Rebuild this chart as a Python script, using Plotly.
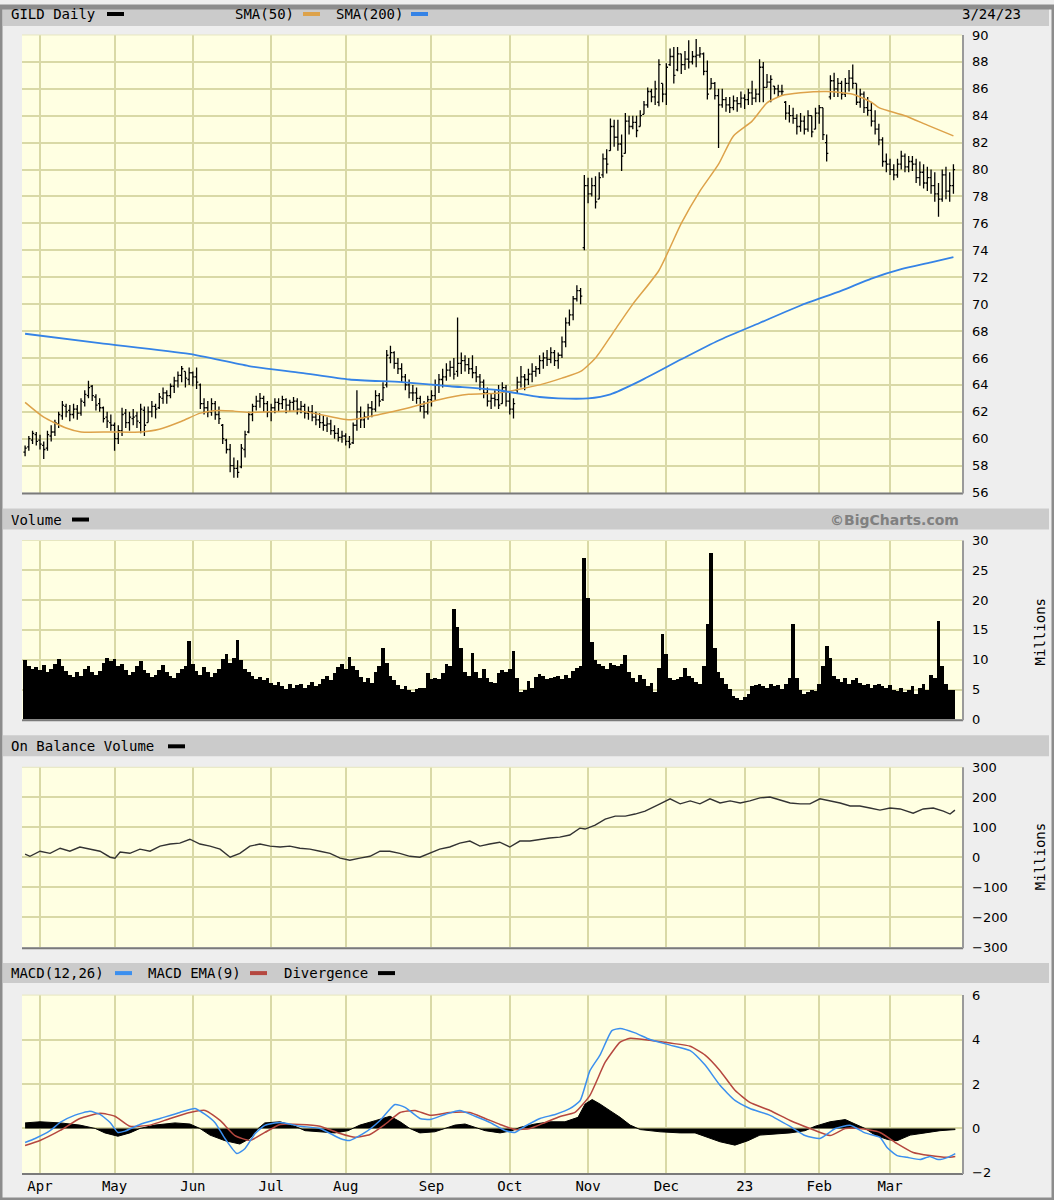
import plotly.graph_objects as go
import pandas as pd

# ---------------- data ----------------
holidays = ['2022-04-15', '2022-05-30', '2022-06-20', '2022-07-04', '2022-09-05',
            '2022-11-24', '2022-12-26', '2023-01-02', '2023-01-16', '2023-02-20']
month_labels = ['Apr', 'May', 'Jun', 'Jul', 'Aug', 'Sep', 'Oct', 'Nov', 'Dec', '23', 'Feb', 'Mar']

open_ = [59.0, 59.4, 59.9, 60.3, 59.9, 59.5, 59.3, 60.2, 60.5, 61.1,
         61.7, 62.4, 62.1, 61.8, 62.2, 61.9, 62.7, 63.2, 63.9, 63.1,
         62.6, 62.3, 61.6, 61.2, 61.0, 60.0, 60.6, 61.9, 61.2, 61.5,
         61.7, 61.2, 62.1, 61.2, 62.0, 62.4, 62.3, 63.0, 63.4, 63.2,
         63.9, 64.3, 64.7, 65.0, 64.4, 64.9, 64.6, 64.0, 62.6, 62.3,
         62.0, 62.6, 61.8, 61.0, 59.9, 59.2, 58.0, 57.8, 57.9, 59.2,
         60.5, 61.8, 62.4, 62.8, 63.0, 62.6, 62.0, 62.3, 62.7, 62.6,
         62.9, 62.5, 62.7, 62.8, 62.2, 62.4, 61.9, 62.0, 61.6, 61.4,
         61.2, 61.0, 61.1, 60.6, 60.4, 60.1, 60.2, 59.8, 59.7, 61.0,
         62.0, 61.4, 61.6, 62.3, 62.2, 63.2, 62.9, 64.0, 66.0, 66.4,
         65.6, 65.2, 64.6, 64.0, 63.4, 63.4, 63.0, 62.4, 62.0, 62.9,
         63.2, 64.0, 64.4, 64.6, 65.1, 65.3, 65.0, 65.6, 65.8, 65.5,
         65.2, 64.9, 64.6, 64.2, 63.4, 62.8, 63.0, 62.9, 62.6, 63.8,
         62.8, 62.2, 63.6, 64.2, 64.6, 64.4, 64.8, 65.0, 65.2, 65.8,
         66.0, 65.9, 66.4, 65.8, 66.2, 67.2, 68.6, 69.2, 70.4, 71.0,
         74.2, 78.8, 78.2, 78.8, 77.8, 79.6, 80.8, 81.4, 83.2, 82.4,
         81.9, 81.2, 83.6, 83.2, 83.5, 83.2, 84.1, 84.8, 85.8, 85.4,
         85.0, 86.4, 85.6, 87.8, 88.4, 87.4, 88.6, 87.8, 88.2, 88.0,
         88.4, 88.5, 88.6, 87.3, 86.0, 86.4, 85.5, 84.8, 85.2, 84.8,
         84.6, 85.1, 84.9, 85.3, 85.2, 85.7, 85.3, 85.6, 87.6, 86.1,
         86.5, 86.2, 86.0, 85.8, 85.0, 84.2, 84.0, 83.8, 83.2, 83.6,
         83.0, 84.0, 83.0, 84.2, 84.6, 82.0, 85.4, 86.6, 86.0, 86.4,
         85.6, 86.4, 86.8, 86.4, 85.0, 85.6, 84.6, 84.4, 83.6, 83.0,
         82.2, 80.6, 80.4, 80.0, 79.6, 80.4, 81.0, 80.2, 80.6, 80.4,
         79.4, 79.8, 79.0, 79.4, 78.8, 78.2, 77.8, 79.6, 78.4, 78.8]

high = [59.5, 60.2, 60.6, 60.5, 60.3, 59.8, 60.6, 61.0, 61.4, 62.0,
        62.8, 62.6, 62.5, 62.6, 62.5, 63.0, 63.6, 64.3, 64.0, 63.3,
        63.0, 62.4, 62.0, 61.8, 61.2, 61.0, 62.3, 62.2, 62.0, 62.2,
        62.0, 62.6, 62.4, 62.4, 62.8, 62.6, 63.4, 63.8, 63.6, 64.1,
        64.6, 65.0, 65.4, 65.0, 65.3, 65.0, 65.3, 64.1, 63.0, 62.8,
        63.0, 62.8, 62.4, 61.1, 60.0, 59.6, 58.6, 58.4, 59.6, 60.6,
        62.0, 62.6, 63.2, 63.4, 63.2, 62.8, 62.6, 63.0, 63.0, 63.2,
        63.0, 62.9, 63.1, 63.0, 62.8, 62.6, 62.4, 62.5, 62.0, 61.9,
        61.7, 61.6, 61.4, 61.0, 60.8, 60.6, 60.4, 60.2, 61.2, 63.6,
        62.4, 62.0, 62.6, 62.8, 63.6, 63.4, 64.2, 66.6, 66.9, 66.5,
        66.0, 65.6, 64.8, 64.4, 64.0, 63.8, 63.2, 62.8, 63.2, 63.6,
        64.4, 64.8, 65.2, 65.6, 65.8, 66.0, 69.0, 66.4, 66.2, 66.0,
        66.2, 65.4, 64.8, 64.4, 63.8, 63.4, 63.6, 64.0, 64.2, 64.0,
        63.4, 63.0, 64.6, 65.4, 64.8, 65.2, 65.6, 65.4, 66.2, 66.4,
        66.6, 66.8, 66.6, 66.4, 67.6, 69.0, 69.6, 70.6, 71.4, 71.2,
        79.6, 79.4, 79.4, 79.5, 79.8, 81.2, 81.5, 83.8, 83.7, 83.7,
        82.6, 84.2, 84.0, 84.0, 84.0, 84.4, 85.1, 86.1, 86.0, 86.6,
        88.2, 86.4, 87.9, 89.0, 89.1, 89.1, 88.6, 88.8, 89.6, 88.8,
        89.7, 89.1, 88.7, 88.1, 86.8, 86.5, 86.0, 86.0, 85.4, 85.4,
        85.5, 85.4, 85.8, 85.6, 86.0, 86.6, 86.0, 88.2, 88.0, 87.1,
        87.0, 86.2, 86.3, 86.3, 85.1, 84.8, 84.6, 84.1, 84.2, 84.0,
        84.4, 84.0, 84.6, 84.8, 84.6, 82.6, 87.0, 87.2, 86.8, 86.6,
        86.8, 87.4, 87.8, 86.4, 86.0, 85.8, 85.4, 85.0, 84.4, 83.4,
        82.4, 81.2, 80.8, 80.4, 80.8, 81.4, 81.2, 81.0, 81.0, 80.8,
        80.6, 80.4, 80.2, 80.0, 79.8, 79.0, 80.0, 80.2, 79.8, 80.4]

low = [58.7, 59.1, 59.6, 59.5, 59.2, 58.5, 59.1, 59.8, 60.2, 60.8,
       61.4, 61.6, 61.3, 61.5, 61.4, 61.7, 62.4, 63.0, 62.8, 62.1,
       62.0, 61.2, 60.8, 60.6, 59.1, 59.6, 60.2, 60.8, 60.6, 61.0,
       60.8, 60.4, 60.2, 61.2, 61.6, 61.5, 62.2, 62.6, 62.6, 63.0,
       63.4, 63.8, 64.2, 63.8, 64.0, 63.9, 63.7, 62.2, 61.8, 61.6,
       61.7, 61.4, 61.1, 59.6, 58.9, 57.5, 57.1, 57.1, 57.8, 58.6,
       60.4, 61.3, 62.1, 62.3, 62.0, 61.6, 61.3, 61.9, 62.0, 62.2,
       61.9, 62.0, 62.1, 61.8, 61.9, 61.5, 61.4, 61.3, 61.0, 60.8,
       60.6, 60.5, 60.3, 60.0, 59.8, 59.7, 59.5, 59.3, 59.6, 60.6,
       60.8, 60.8, 61.4, 61.6, 62.0, 62.4, 62.8, 63.8, 65.6, 65.2,
       64.8, 64.2, 63.6, 63.0, 62.8, 62.6, 62.0, 61.5, 61.8, 62.4,
       62.8, 63.4, 63.8, 64.3, 64.6, 64.4, 64.6, 64.8, 65.0, 64.8,
       64.5, 64.2, 63.6, 63.0, 62.4, 62.2, 62.4, 62.2, 62.6, 62.4,
       61.8, 61.5, 63.4, 63.8, 63.6, 64.0, 64.2, 64.6, 64.8, 65.2,
       65.4, 65.6, 65.4, 65.2, 66.0, 66.8, 68.4, 68.8, 70.2, 70.0,
       74.0, 77.5, 78.0, 77.1, 77.8, 79.4, 79.7, 81.4, 81.7, 81.4,
       79.9, 81.2, 82.6, 83.0, 82.4, 83.2, 84.1, 84.6, 85.0, 84.8,
       84.7, 85.0, 84.8, 87.7, 86.4, 87.3, 87.1, 87.4, 87.5, 87.8,
       87.6, 88.3, 87.0, 85.2, 86.0, 85.2, 81.6, 84.6, 84.3, 84.2,
       84.4, 84.3, 84.6, 84.5, 84.8, 84.8, 85.0, 85.0, 85.0, 86.1,
       85.0, 85.6, 85.4, 85.5, 83.7, 83.5, 83.4, 82.6, 82.8, 82.6,
       82.8, 82.4, 83.0, 83.4, 82.2, 80.6, 85.2, 85.4, 85.4, 85.2,
       85.4, 85.8, 86.0, 84.8, 84.6, 84.2, 84.0, 83.2, 82.6, 81.8,
       80.2, 79.8, 79.6, 79.2, 79.4, 80.0, 79.8, 79.8, 79.9, 79.0,
       78.8, 78.6, 78.4, 78.2, 77.6, 76.5, 77.6, 77.8, 77.6, 78.2]

close = [59.3, 60.0, 60.4, 59.8, 59.6, 59.2, 60.3, 60.5, 61.2, 61.8,
         62.5, 62.0, 61.8, 62.2, 61.9, 62.8, 63.3, 63.8, 63.2, 62.5,
         62.3, 61.5, 61.3, 61.0, 60.0, 60.6, 61.8, 61.2, 61.6, 61.6,
         61.3, 62.2, 61.0, 62.0, 62.4, 62.2, 63.1, 63.4, 63.2, 63.9,
         64.3, 64.7, 65.2, 64.5, 64.9, 64.6, 64.2, 62.6, 62.3, 62.0,
         62.6, 61.8, 61.5, 60.0, 59.2, 58.0, 57.8, 57.5, 59.3, 60.3,
         61.8, 62.4, 62.8, 63.0, 62.6, 62.0, 62.3, 62.7, 62.6, 62.9,
         62.5, 62.7, 62.8, 62.2, 62.4, 61.9, 62.0, 61.6, 61.4, 61.2,
         61.0, 61.1, 60.6, 60.4, 60.1, 60.2, 59.8, 59.6, 61.0, 62.0,
         61.4, 61.6, 62.3, 62.2, 63.2, 62.8, 63.8, 66.2, 66.4, 65.6,
         65.2, 64.6, 64.0, 63.4, 63.4, 63.0, 62.4, 62.0, 62.9, 63.2,
         64.0, 64.4, 64.6, 65.1, 65.3, 64.8, 65.6, 65.8, 65.5, 65.2,
         64.9, 64.6, 64.2, 63.4, 62.8, 63.0, 62.9, 62.5, 63.8, 62.8,
         62.2, 62.6, 64.2, 64.6, 64.4, 64.8, 65.0, 65.2, 65.8, 66.0,
         65.9, 66.4, 65.8, 66.2, 67.2, 68.6, 69.2, 70.4, 71.0, 70.6,
         78.8, 78.2, 78.8, 77.6, 79.4, 80.8, 80.4, 83.2, 82.4, 81.9,
         81.0, 83.6, 83.2, 83.5, 82.9, 84.0, 84.8, 85.8, 85.4, 86.0,
         87.8, 85.6, 87.6, 88.4, 87.0, 88.6, 87.8, 88.2, 88.0, 88.4,
         88.5, 88.6, 87.3, 85.6, 86.4, 85.5, 84.8, 85.2, 84.8, 84.6,
         85.1, 84.9, 85.3, 85.2, 85.7, 85.3, 85.6, 87.6, 86.1, 86.5,
         86.7, 86.0, 85.8, 85.8, 84.2, 84.0, 83.8, 83.2, 83.6, 83.0,
         84.0, 82.8, 84.2, 84.6, 82.6, 81.2, 86.6, 86.0, 86.4, 85.6,
         86.4, 86.8, 86.4, 85.0, 85.6, 84.6, 84.4, 83.6, 83.0, 82.2,
         80.6, 80.4, 80.0, 79.6, 80.4, 81.0, 80.2, 80.6, 80.4, 79.4,
         79.8, 79.0, 79.4, 78.8, 78.2, 77.8, 79.6, 78.4, 78.8, 80.0]

volume_m = [10.0, 9.0, 8.5, 8.8, 8.4, 9.2, 8.0, 8.6, 9.4, 10.2,
            9.0, 8.2, 7.6, 7.2, 8.0, 7.4, 8.6, 9.0, 8.0, 7.6,
            8.2, 9.6, 10.4, 9.8, 10.2, 9.0, 9.4, 8.4, 7.6, 8.0,
            9.0, 9.8, 8.4, 7.8, 7.2, 7.6, 8.4, 9.2, 8.0, 7.4,
            7.0, 7.8, 8.6, 9.0, 13.2, 9.4, 8.2, 7.6, 8.8, 8.0,
            7.2, 7.8, 8.6, 10.2, 11.0, 9.6, 10.4, 13.4, 10.0, 8.6,
            8.0, 7.4, 6.8, 7.2, 6.6, 7.0, 6.2, 5.8, 6.4, 5.6,
            5.2, 6.0, 5.4, 5.8, 6.0, 5.4, 5.8, 6.4, 5.6, 6.0,
            6.8, 7.4, 6.6, 7.8, 8.8, 9.4, 8.6, 10.6, 9.0, 8.4,
            7.2, 6.4, 7.0, 6.2, 8.0, 9.0, 12.0, 9.6, 7.4, 6.6,
            5.8, 5.2, 5.6, 5.0, 4.6, 5.2, 5.4, 5.4, 7.9, 6.9,
            7.0, 6.9, 7.8, 9.4, 9.0, 18.6, 15.5, 12.0, 8.0, 7.4,
            11.2, 8.0, 7.0, 8.5, 7.0, 6.4, 6.2, 7.8, 8.4, 8.0,
            8.6, 11.6, 7.0, 4.6, 5.0, 6.5, 5.4, 7.2, 7.7, 7.4,
            6.9, 7.0, 7.2, 7.4, 6.8, 7.6, 7.0, 8.2, 8.7, 9.0,
            27.2, 20.5, 13.0, 10.0, 9.4, 9.0, 8.6, 9.5, 9.2, 9.0,
            9.4, 10.8, 8.0, 7.0, 6.4, 7.6, 6.8, 5.6, 6.2, 4.6,
            8.7, 14.4, 11.0, 7.0, 6.6, 6.9, 7.2, 8.7, 7.4, 7.0,
            6.4, 6.0, 9.0, 16.0, 28.0, 12.0, 8.0, 7.0, 6.0, 5.2,
            4.0, 3.6, 3.4, 3.8, 4.4, 5.6, 5.8, 6.0, 5.6, 5.4,
            6.0, 5.6, 5.8, 5.2, 6.0, 7.0, 16.0, 7.0, 5.0, 4.4,
            4.6, 5.0, 4.8, 6.0, 9.0, 12.4, 10.4, 7.4, 6.8, 6.4,
            7.0, 6.0, 6.6, 7.0, 6.2, 5.8, 6.0, 5.4, 5.8, 6.0,
            5.6, 5.4, 5.8, 5.0, 4.8, 5.4, 4.6, 5.0, 5.6, 4.4,
            5.4, 6.0, 5.0, 7.6, 7.0, 16.6, 9.0, 6.0, 5.0, 5.0]

sma50_day = [0, 5, 11, 15, 23, 31, 36, 42, 47, 52, 56, 60, 74, 87, 95, 103, 111, 119, 127,
             138, 144, 149, 153, 158, 163, 170, 176, 181, 186, 190, 195, 199, 203, 208,
             215, 222, 227, 229, 236, 242, 249]
sma50_val = [62.7, 61.6, 60.8, 60.5, 60.5, 60.5, 60.7, 61.3, 61.9, 62.1, 62.05, 61.95, 62.05,
             61.4, 61.8, 62.3, 62.9, 63.3, 63.4, 64.0, 64.5, 65.0, 66.0, 68.0, 70.0, 72.5,
             76.0, 78.4, 80.4, 82.5, 83.6, 84.95, 85.5, 85.7, 85.8, 85.6, 85.0, 84.6, 84.0,
             83.3, 82.5]

sma200_day = [0, 20, 44, 60, 74, 87, 101, 114, 127, 138, 143, 151, 157, 165, 176, 186,
              197, 208, 219, 227, 235, 243, 249]
sma200_val = [67.8, 67.1, 66.3, 65.4, 64.9, 64.4, 64.2, 63.9, 63.6, 63.1, 63.0, 63.0, 63.3,
              64.3, 65.9, 67.3, 68.6, 69.9, 71.0, 71.9, 72.6, 73.1, 73.5]

obv_day = [0, 1.3, 4, 6.7, 9.4, 12, 14.7, 17.4, 20.1, 22.8, 24.1, 25.5, 28.1, 30.8, 33.5,
           36.2, 38.9, 41.5, 44.2, 46.9, 49.6, 52.3, 55, 57.6, 60.3, 63, 65.7, 68.4, 71,
           73.7, 76.4, 79.1, 81.8, 84.5, 87.1, 89.8, 92.5, 95.2, 97.8, 100.5, 103.2, 105.9,
           108.5, 111.2, 113.9, 116.6, 119.3, 122, 124.6, 127.3, 130, 132.7, 135.4, 138,
           140.7, 143.4, 146.1, 148.8, 150.2, 152.9, 155.6, 158.3, 161, 163.6, 166.3,
           170.3, 173, 175.7, 178.4, 181, 183.7, 186.4, 189.1, 191.8, 194.4, 197.1, 199.8,
           202.5, 205.2, 207.9, 210.5, 213.2, 215.9, 218.6, 221.3, 223.9, 226.6, 229.3,
           232, 234.7, 238.2, 240.9, 243.6, 246.3, 248.1, 249.4]
obv_val = [10, 3, 20, 13, 30, 20, 34, 27, 20, 0, -3, 17, 13, 27, 20,
           37, 44, 47, 60, 44, 37, 27, 0, 13, 37, 44, 37, 34, 37,
           30, 27, 20, 13, -3, -10, -3, 3, 20, 20, 13, 3, 0,
           13, 27, 34, 47, 54, 37, 44, 50, 34, 54, 54, 60,
           64, 67, 74, 97, 94, 107, 127, 137, 137, 144, 154,
           178, 195, 178, 188, 178, 195, 181, 188, 181, 188, 198, 201,
           191, 181, 178, 178, 195, 188, 181, 171, 171, 164, 157,
           164, 161, 147, 161, 164, 154, 144, 157]

macd_day = [0, 2.7, 6.7, 9.4, 13.4, 17.4, 20.1, 22.8, 24.9, 26.8, 30.8, 36.2, 41.5, 45.6,
            48.3, 50.9, 53.6, 56.8, 59, 61.7, 64.3, 68.4, 73.7, 79.1, 84.5, 87.1, 91.2,
            95.2, 99.2, 101.9, 105.9, 108.6, 112.6, 116.6, 120.7, 124.7, 128.7, 131.4,
            134.1, 138.1, 142.2, 146.2, 148.9, 151.5, 154.2, 157.4, 159.6, 163.6, 167.6,
            173, 178.4, 182.4, 186.4, 190.4, 194.4, 199.8, 205.2, 209.2, 213.2, 217.3,
            221.3, 225.3, 229.3, 231.2, 233.9, 236.6, 240.1, 242.7, 244.9, 247.5, 249.5]
macd_val = [-0.63, -0.45, -0.1, 0.27, 0.6, 0.77, 0.63, 0.27, -0.18, -0.12, 0.18, 0.45, 0.72,
            0.9, 0.63, 0.27, -0.45, -1.13, -0.9, -0.23, 0.14, 0.27, 0.1, 0.0, -0.45, -0.54,
            -0.18, 0.36, 1.08, 0.95, 0.45, 0.4, 0.63, 0.81, 0.55, 0.27, -0.09, -0.18,
            0.1, 0.45, 0.63, 0.9, 1.26, 2.6, 3.3, 4.4, 4.5, 4.3, 4.0,
            3.75, 3.5, 2.85, 1.94, 1.26, 0.9, 0.59, 0.09, -0.32, -0.45, 0.0,
            0.14, -0.2, -0.4, -0.86, -1.22, -1.3, -1.4, -1.26, -1.4, -1.3, -1.13]

signal_day = [0, 4, 9.4, 14.7, 20.1, 24.1, 28.1, 33.5, 38.9, 44.2, 48.3, 52.3, 56.3, 60.3,
              64.3, 68.4, 73.7, 79.1, 84.5, 88.5, 92.5, 96.5, 100.6, 104.6, 108.6, 113.9,
              119.3, 123.4, 127.4, 131.4, 135.4, 139.5, 143.5, 147.5, 151.5, 155.6, 159.6,
              162.3, 167.6, 173, 178.4, 182.4, 186.4, 190.4, 194.4, 199.8, 205.2, 210.5,
              215.9, 220, 223.9, 229.3, 233.9, 238.2, 242.7, 247.2, 249.5]
signal_val = [-0.77, -0.54, -0.09, 0.45, 0.68, 0.55, 0.1, 0.15, 0.45, 0.72, 0.81, 0.36, -0.32,
              -0.54, -0.18, 0.18, 0.18, 0.1, -0.23, -0.4, -0.27, 0.18, 0.72, 0.81, 0.59, 0.72,
              0.72, 0.45, 0.18, -0.05, 0.0, 0.27, 0.54, 0.72, 1.49, 2.98, 3.88,
              4.06, 3.97, 3.84, 3.7, 3.3, 2.6, 1.72, 1.17, 0.81, 0.36, 0.0,
              -0.32, 0.0, 0.0, -0.18, -0.68, -1.08, -1.22, -1.3, -1.26]

div_day = [0, 4, 9.4, 14.7, 18.8, 21.4, 24.9, 28.1, 30.8, 34.8, 40.2, 44.2, 46.9, 49.6, 53.6,
           57.6, 60.3, 62.5, 64.3, 68.4, 72.4, 75.1, 79.1, 83.1, 86.6, 89.8, 93.9, 97.9,
           100.6, 103.2, 105.9, 109.9, 112.6, 115.3, 118, 120.7, 123.4, 127.4, 130.6, 132.8,
           136.8, 140.8, 144.8, 148.3, 150.2, 152.1, 154.2, 156.9, 159.6, 162.3, 165, 170.3,
           175.7, 179.7, 182.4, 186.4, 190.4, 193.9, 197.1, 201.2, 205.2, 209.2, 211.9,
           215.9, 220, 222.6, 225.3, 228, 231.4, 233.9, 237.4, 241.4, 245.4, 249.5]
div_val = [0.25, 0.3, 0.25, 0.15, 0.0, -0.2, -0.35, -0.2, 0.0, 0.15, 0.25, 0.2, 0.0, -0.3, -0.55,
           -0.7, -0.45, 0.0, 0.25, 0.3, 0.1, -0.1, -0.15, -0.2, -0.1, 0.15, 0.35, 0.55,
           0.3, 0.0, -0.2, -0.15, 0.0, 0.15, 0.2, 0.05, -0.1, -0.2, -0.1, 0.05,
           0.2, 0.3, 0.3, 0.5, 1.1, 1.3, 1.1, 0.8, 0.5, 0.15, -0.05, -0.15,
           -0.2, -0.2, -0.35, -0.6, -0.75, -0.55, -0.3, -0.25, -0.2, -0.1, 0.1,
           0.3, 0.4, 0.2, 0.0, -0.3, -0.5, -0.55, -0.3, -0.2, -0.1, -0.05]

# ---------------- axis helpers ----------------
dates = pd.bdate_range('2022-03-28', '2023-03-24', freq='C', holidays=holidays)
days = list(range(len(close)))
month_start = [i for i in range(1, len(dates)) if dates[i].month != dates[i - 1].month]

W = 1054
HF = 1208          # figure height (page is captured slightly taller than the window)
Y_OFF, Y_SCALE = 6.0, 0.9885   # observed capture mapping: shown = off + scale * page_y
PLOT_BG = '#FFFFE2'
GRID = '#D9D9A6'
PAGE = '#EEEEEE'
BAR = '#CBCBCB'
FONT = 'DejaVu Sans Mono'
NUMFONT = 'DejaVu Sans'


def px_x(p):
    return p / W


def px_y(p):
    fy = (p - Y_OFF) / Y_SCALE
    return min(1.0, max(0.0, 1 - fy / HF))


x_dom = [px_x(22), px_x(962)]
panels = {  # top, bottom in target pixels
    'price': (34, 492),
    'vol': (540, 719),
    'obv': (767, 947),
    'macd': (995, 1173),
}
x_rng = [-0.83, 251.3]

fig = go.Figure()

fig.add_trace(go.Ohlc(x=days, open=open_, high=high, low=low, close=close,
                      increasing=dict(line=dict(color='black', width=1.3)),
                      decreasing=dict(line=dict(color='black', width=1.3)),
                      tickwidth=0.45, xaxis='x', yaxis='y', showlegend=False,
                      hoverinfo='skip'))
fig.add_trace(go.Scatter(x=sma50_day, y=sma50_val, mode='lines',
                         line=dict(color='#DDA24A', width=1.5, shape='spline', smoothing=0.6),
                         xaxis='x', yaxis='y', showlegend=False))
fig.add_trace(go.Scatter(x=sma200_day, y=sma200_val, mode='lines',
                         line=dict(color='#3583E6', width=1.8, shape='spline', smoothing=0.6),
                         xaxis='x', yaxis='y', showlegend=False))

fig.add_trace(go.Bar(x=days, y=volume_m, width=1.0, marker=dict(color='black', line=dict(width=0)),
                     xaxis='x2', yaxis='y2', showlegend=False))

fig.add_trace(go.Scatter(x=obv_day, y=obv_val, mode='lines',
                         line=dict(color='#333333', width=1.4),
                         xaxis='x3', yaxis='y3', showlegend=False))

fig.add_trace(go.Scatter(x=div_day, y=div_val, mode='lines', fill='tozeroy',
                         fillcolor='black', line=dict(color='black', width=1),
                         xaxis='x4', yaxis='y4', showlegend=False))
fig.add_trace(go.Scatter(x=signal_day, y=signal_val, mode='lines',
                         line=dict(color='#B5473F', width=1.5, shape='spline', smoothing=0.5),
                         xaxis='x4', yaxis='y4', showlegend=False))
fig.add_trace(go.Scatter(x=macd_day, y=macd_val, mode='lines',
                         line=dict(color='#3B8FEF', width=1.5, shape='spline', smoothing=0.5),
                         xaxis='x4', yaxis='y4', showlegend=False))

xa = dict(range=x_rng, domain=x_dom, tickvals=month_start, showgrid=True, gridcolor=GRID,
          gridwidth=2, zeroline=False, showline=False, ticks='', fixedrange=True,
          rangeslider=dict(visible=False))
tickfont = dict(family=NUMFONT, size=13, color='black')
monthfont = dict(family=FONT, size=14, color='black')


def ya(key, rng, tv, tt):
    t, b = panels[key]
    return dict(domain=[px_y(b), px_y(t)], range=rng, side='right', tickvals=tv, ticktext=tt,
                showgrid=True, gridcolor=GRID, gridwidth=2, zeroline=False, showline=False,
                ticks='', tickfont=tickfont, ticklabelstandoff=9, fixedrange=True)


price_ticks = list(range(56, 91, 2))
vol_ticks = list(range(0, 31, 5))
obv_ticks = list(range(-300, 301, 100))
macd_ticks = list(range(-2, 7, 2))

fig.update_layout(
    width=W, height=HF, margin=dict(l=0, r=0, t=0, b=0),
    paper_bgcolor=PAGE, plot_bgcolor=PLOT_BG, bargap=0,
    xaxis=dict(xa, showticklabels=False, anchor='y'),
    xaxis2=dict(xa, showticklabels=False, anchor='y2', matches='x'),
    xaxis3=dict(xa, showticklabels=False, anchor='y3', matches='x'),
    xaxis4=dict(xa, showticklabels=True, anchor='y4', matches='x', ticktext=month_labels,
                tickfont=monthfont, ticklabelstandoff=3),
    yaxis=ya('price', [56, 90], price_ticks, [str(v) for v in price_ticks]),
    yaxis2=ya('vol', [0, 30], vol_ticks, [str(v) for v in vol_ticks]),
    yaxis3=ya('obv', [-300, 300], obv_ticks, [str(v).replace('-', '\u2212') for v in obv_ticks]),
    yaxis4=ya('macd', [-2, 6], macd_ticks, [str(v).replace('-', '\u2212') for v in macd_ticks]),
    showlegend=False,
)

shapes = []
annots = []

# header bars
headers = [(0, 25), (508, 529), (735, 756), (963, 983)]
for t, b in headers:
    shapes.append(dict(type='rect', xref='paper', yref='paper', x0=px_x(3), x1=px_x(1049),
                       y0=px_y(b), y1=px_y(t), fillcolor=BAR, line=dict(width=0), layer='below'))

# plot frames (shadow on bottom/right)
for key, (t, b) in panels.items():
    shapes.append(dict(type='line', xref='paper', yref='paper', x0=px_x(22), x1=px_x(963),
                       y0=px_y(b + 1), y1=px_y(b + 1), line=dict(color='#7A7A7A', width=2)))
    shapes.append(dict(type='line', xref='paper', yref='paper', x0=px_x(963), x1=px_x(963),
                       y0=px_y(b + 1), y1=px_y(t), line=dict(color='#9A9A9A', width=2)))
    shapes.append(dict(type='line', xref='paper', yref='paper', x0=px_x(22), x1=px_x(962),
                       y0=px_y(t), y1=px_y(t), line=dict(color='#E6E6C0', width=1)))

# outer border
shapes.append(dict(type='rect', xref='paper', yref='paper', x0=0, x1=1, y0=0, y1=1,
                   line=dict(color='#8C8C8C', width=5), fillcolor='rgba(0,0,0,0)'))


def label(x, y, text, anchor='left', size=14, color='black', family=FONT, bold=False):
    annots.append(dict(xref='paper', yref='paper', x=px_x(x), y=px_y(y),
                       text=('<b>%s</b>' % text) if bold else text,
                       showarrow=False, xanchor=anchor, yanchor='middle',
                       font=dict(family=family, size=size, color=color)))


def swatch(x, y, color):
    shapes.append(dict(type='rect', xref='paper', yref='paper', x0=px_x(x), x1=px_x(x + 17),
                       y0=px_y(y + 2), y1=px_y(y - 2), fillcolor=color, line=dict(width=0)))


# price header
label(9, 13, 'GILD Daily')
swatch(107, 13, 'black')
label(233, 13, 'SMA(50)')
swatch(303, 13, '#DDA24A')
label(334, 13, 'SMA(200)')
swatch(411, 13, '#3583E6')
label(1023, 13, '3/24/23', anchor='right')

# volume header
label(9, 519, 'Volume')
swatch(72, 519, 'black')
label(961, 519, '©BigCharts.com', anchor='right', size=14, color='#808080',
      family='DejaVu Sans', bold=True)

# OBV header
label(9, 746, 'On Balance Volume')
swatch(168, 746, 'black')

# MACD header
label(9, 973, 'MACD(12,26)')
swatch(115, 973, '#3B8FEF')
label(146, 973, 'MACD EMA(9)')
swatch(250, 973, '#B5473F')
label(282, 973, 'Divergence')
swatch(378, 973, 'black')

# Millions side titles
for y in (632, 857):
    annots.append(dict(xref='paper', yref='paper', x=px_x(1040), y=px_y(y), text='Millions',
                       showarrow=False, textangle=-90, xanchor='center', yanchor='middle',
                       font=dict(family=FONT, size=14, color='black')))

fig.update_layout(shapes=shapes, annotations=annots)

post = (
    "var s=document.createElement('style');"
    "s.innerHTML='html,body{margin:0;padding:0;overflow:hidden;background:#EEEEEE;}';"
    "document.head.appendChild(s);"
)
fig.write_html('out.html', config={'displayModeBar': False}, post_script=post)
